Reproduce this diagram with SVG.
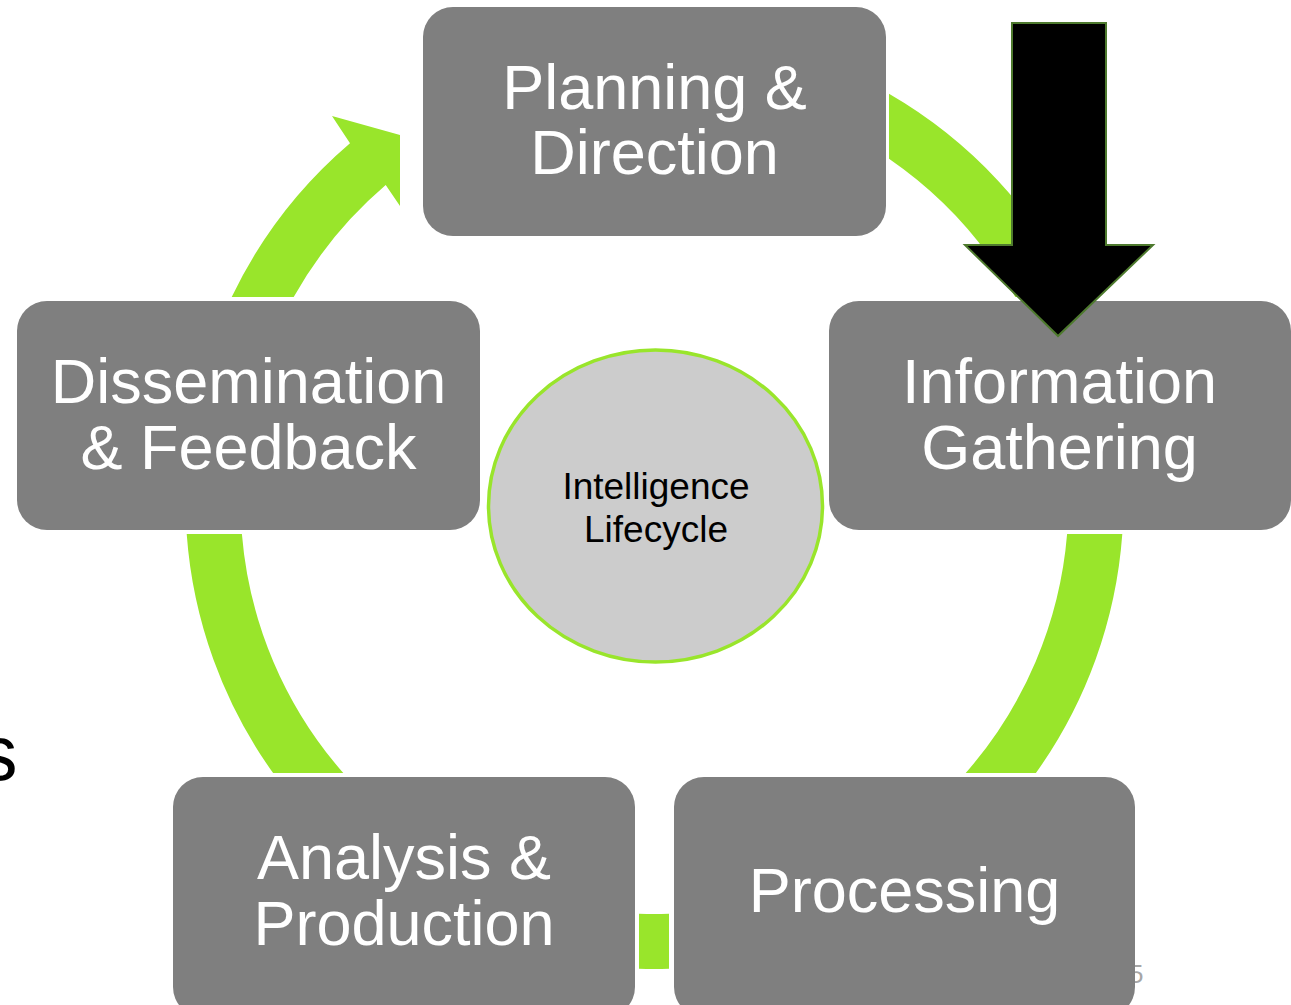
<svg xmlns="http://www.w3.org/2000/svg" width="1291" height="1005" viewBox="0 0 1291 1005">
  <style>
    .box { fill: #7f7f7f; }
    .lbl { fill: #ffffff; font-family: "Liberation Sans", Arial, sans-serif; font-size: 63px; text-anchor: middle; }
    .ring { fill: #99e52b; }
    .ctr { fill: #000000; font-family: "Liberation Sans", Arial, sans-serif; font-size: 37px; text-anchor: middle; }
  </style>
  <rect x="0" y="0" width="1291" height="1005" fill="#ffffff"/>
  <text x="-21" y="780" font-family="Liberation Sans, Arial, sans-serif" font-size="77" fill="#000000">s</text>
  <text x="1129" y="983" font-family="Liberation Sans, Arial, sans-serif" font-size="26" fill="#a6a6a6">5</text>

  <g id="connectors">
    <path class="ring" d="M889,93.8 A469,469 0 0 1 1077.3,297 L1015.3,297 A414,414 0 0 0 889,158.8 Z"/>
    <path class="ring" d="M1122.3,534 L1067.1,534 A414,414 0 0 1 965.7,773 L1035.9,773 A469,469 0 0 0 1122.3,534 Z"/>
    <path class="ring" d="M639,913.7 A414,414 0 0 0 669,913.7 L669,968.7 A469,469 0 0 1 639,968.7 Z"/>
    <path class="ring" d="M186.7,534 L241.9,534 A414,414 0 0 0 343.3,773 L273.1,773 A469,469 0 0 1 186.7,534 Z"/>
    <path class="ring" d="M231.7,297 A469,469 0 0 1 350,143.3 L332,116 L400,135 L400,206 L385.7,185.1 A414,414 0 0 0 293.7,297 Z"/>
  </g>

  <g id="node-planning">
    <rect class="box" x="423" y="7" width="463" height="229" rx="30"/>
    <text class="lbl" x="654.5" y="109">Planning &amp;</text>
    <text class="lbl" x="654.5" y="174">Direction</text>
  </g>
  <g id="node-information">
    <rect class="box" x="829" y="301" width="462" height="229" rx="30"/>
    <text class="lbl" x="1059.5" y="403">Information</text>
    <text class="lbl" x="1059.5" y="469">Gathering</text>
  </g>
  <g id="node-processing">
    <rect class="box" x="674" y="777" width="461" height="240" rx="30"/>
    <text class="lbl" x="904.5" y="912">Processing</text>
  </g>
  <g id="node-analysis">
    <rect class="box" x="173" y="777" width="462" height="240" rx="30"/>
    <text class="lbl" x="404" y="879">Analysis &amp;</text>
    <text class="lbl" x="404" y="945">Production</text>
  </g>
  <g id="node-dissemination">
    <rect class="box" x="17" y="301" width="463" height="229" rx="30"/>
    <text class="lbl" x="248.5" y="403">Dissemination</text>
    <text class="lbl" x="248.5" y="469">&amp; Feedback</text>
  </g>
  <g id="node-center">
    <ellipse cx="655.5" cy="506" rx="167" ry="156" fill="#cccccc" stroke="#99e52b" stroke-width="3.5"/>
    <text class="ctr" x="656" y="499">Intelligence</text>
    <text class="ctr" x="656" y="542">Lifecycle</text>
  </g>
  <g id="black-arrow">
    <polygon points="1012,23 1106,23 1106,245 1153,245 1058,336 965,245 1012,245" fill="#000000" stroke="#4e7a2e" stroke-width="2"/>
  </g>
</svg>
